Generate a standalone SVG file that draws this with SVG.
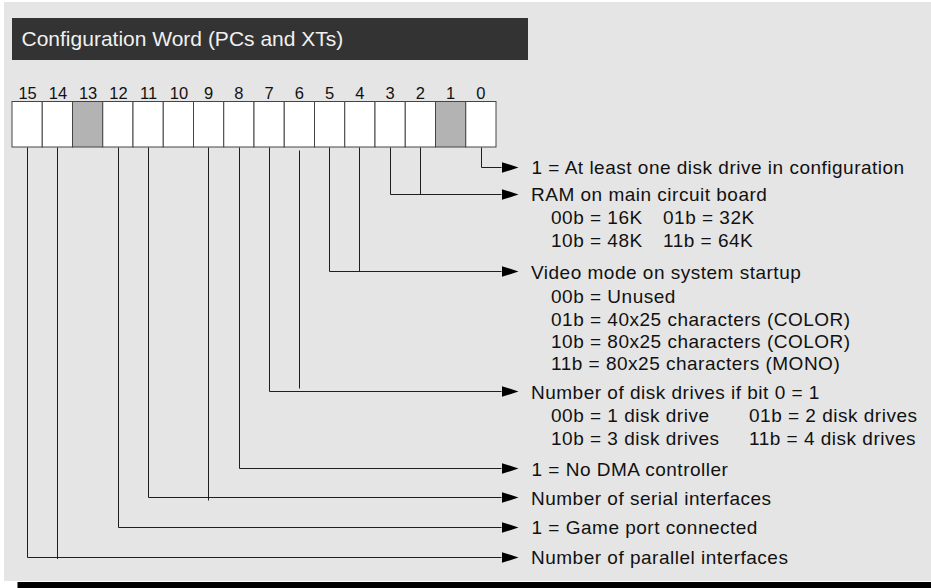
<svg xmlns="http://www.w3.org/2000/svg" width="931" height="588" viewBox="0 0 931 588">
  <style>
    .bg { fill: #e5e5e5; }
    .bar { fill: #333333; }
    .title { font-family: "Liberation Sans", Arial, sans-serif; font-size: 21px; fill: #f0f0f0; }
    .bitlbl { font-family: "Liberation Sans", Arial, sans-serif; font-size: 16.5px; fill: #111; text-anchor: middle; }
    .cell { fill: #ffffff; stroke: #444; stroke-width: 1; }
    .cell.res { fill: #b3b3b3; }
    .conn { fill: none; stroke: #1e1e1e; stroke-width: 1; }
    .desc { font-family: "Liberation Sans", Arial, sans-serif; font-size: 19px; letter-spacing: 0.5px; fill: #111; }
  </style>
  <defs>
    <marker id="arrow" viewBox="0 0 17 11" refX="0" refY="5.5" markerWidth="17" markerHeight="11" markerUnits="userSpaceOnUse" orient="auto">
      <path d="M0,0 L17,5.5 L0,11 z" fill="#000"/>
    </marker>
  </defs>

  <rect class="bg" x="4" y="2" width="927" height="579"/>
  <rect x="17.5" y="582" width="913.5" height="6" fill="#000"/>

  <g id="title">
    <rect class="bar" x="12" y="18" width="516" height="42"/>
    <text class="title" x="21.5" y="45.5">Configuration Word (PCs and XTs)</text>
  </g>

  <g id="bits">
    <g id="bit15"><rect class="cell" x="12" y="101.5" width="30.25" height="45.5"/><text class="bitlbl" x="27.6" y="99">15</text></g>
    <g id="bit14"><rect class="cell" x="42.25" y="101.5" width="30.25" height="45.5"/><text class="bitlbl" x="57.9" y="99">14</text></g>
    <g id="bit13"><rect class="cell res" x="72.5" y="101.5" width="30.25" height="45.5"/><text class="bitlbl" x="88.1" y="99">13</text></g>
    <g id="bit12"><rect class="cell" x="102.75" y="101.5" width="30.25" height="45.5"/><text class="bitlbl" x="118.4" y="99">12</text></g>
    <g id="bit11"><rect class="cell" x="133" y="101.5" width="30.25" height="45.5"/><text class="bitlbl" x="148.6" y="99">11</text></g>
    <g id="bit10"><rect class="cell" x="163.25" y="101.5" width="30.25" height="45.5"/><text class="bitlbl" x="178.9" y="99">10</text></g>
    <g id="bit9"><rect class="cell" x="193.5" y="101.5" width="30.25" height="45.5"/><text class="bitlbl" x="208.6" y="99">9</text></g>
    <g id="bit8"><rect class="cell" x="223.75" y="101.5" width="30.25" height="45.5"/><text class="bitlbl" x="238.9" y="99">8</text></g>
    <g id="bit7"><rect class="cell" x="254" y="101.5" width="30.25" height="45.5"/><text class="bitlbl" x="269.1" y="99">7</text></g>
    <g id="bit6"><rect class="cell" x="284.25" y="101.5" width="30.25" height="45.5"/><text class="bitlbl" x="299.4" y="99">6</text></g>
    <g id="bit5"><rect class="cell" x="314.5" y="101.5" width="30.25" height="45.5"/><text class="bitlbl" x="329.6" y="99">5</text></g>
    <g id="bit4"><rect class="cell" x="344.75" y="101.5" width="30.25" height="45.5"/><text class="bitlbl" x="359.9" y="99">4</text></g>
    <g id="bit3"><rect class="cell" x="375" y="101.5" width="30.25" height="45.5"/><text class="bitlbl" x="390.1" y="99">3</text></g>
    <g id="bit2"><rect class="cell" x="405.25" y="101.5" width="30.25" height="45.5"/><text class="bitlbl" x="420.4" y="99">2</text></g>
    <g id="bit1"><rect class="cell res" x="435.5" y="101.5" width="30.25" height="45.5"/><text class="bitlbl" x="450.6" y="99">1</text></g>
    <g id="bit0"><rect class="cell" x="465.75" y="101.5" width="30.25" height="45.5"/><text class="bitlbl" x="480.9" y="99">0</text></g>
  </g>

  <g id="connectors">
    <path class="conn" d="M481.5 147.5 V167.5 H501.5" marker-end="url(#arrow)"/>
    <path class="conn" d="M390.5 147.5 V194.5 H501.5" marker-end="url(#arrow)"/>
    <path class="conn" d="M420.5 147.5 V194.5"/>
    <path class="conn" d="M329.5 147.5 V271.5 H501.5" marker-end="url(#arrow)"/>
    <path class="conn" d="M359.5 147.5 V271.5"/>
    <path class="conn" d="M269.5 147.5 V391.5 H501.5" marker-end="url(#arrow)"/>
    <path class="conn" d="M299.5 150.5 V388.5"/>
    <path class="conn" d="M239.5 147.5 V468.5 H501.5" marker-end="url(#arrow)"/>
    <path class="conn" d="M148.5 147.5 V497.5 H501.5" marker-end="url(#arrow)"/>
    <path class="conn" d="M208.5 147.5 V500.5"/>
    <path class="conn" d="M118.5 147.5 V527.5 H501.5" marker-end="url(#arrow)"/>
    <path class="conn" d="M27.5 147.5 V557.5 H501.5" marker-end="url(#arrow)"/>
    <path class="conn" d="M57.5 147.5 V559"/>
  </g>

  <g id="desc-bit0">
    <text class="desc" x="531.5" y="174">1 = At least one disk drive in configuration</text>
  </g>
  <g id="desc-bits3-2">
    <text class="desc" x="531" y="201">RAM on main circuit board</text>
    <text class="desc" x="551" y="224">00b = 16K</text>
    <text class="desc" x="663" y="224">01b = 32K</text>
    <text class="desc" x="551" y="246.5">10b = 48K</text>
    <text class="desc" x="663" y="246.5">11b = 64K</text>
  </g>
  <g id="desc-bits5-4">
    <text class="desc" x="531" y="278.5">Video mode on system startup</text>
    <text class="desc" x="551" y="303">00b = Unused</text>
    <text class="desc" x="551" y="325.5">01b = 40x25 characters (COLOR)</text>
    <text class="desc" x="551" y="348">10b = 80x25 characters (COLOR)</text>
    <text class="desc" x="551" y="370">11b = 80x25 characters (MONO)</text>
  </g>
  <g id="desc-bits7-6">
    <text class="desc" x="531" y="398.5">Number of disk drives if bit 0 = 1</text>
    <text class="desc" x="551" y="422">00b = 1 disk drive</text>
    <text class="desc" x="749" y="422">01b = 2 disk drives</text>
    <text class="desc" x="551" y="444.5">10b = 3 disk drives</text>
    <text class="desc" x="749" y="444.5">11b = 4 disk drives</text>
  </g>
  <g id="desc-bit8">
    <text class="desc" x="531.5" y="476">1 = No DMA controller</text>
  </g>
  <g id="desc-bits11-9">
    <text class="desc" x="531" y="505">Number of serial interfaces</text>
  </g>
  <g id="desc-bit12">
    <text class="desc" x="531.5" y="534">1 = Game port connected</text>
  </g>
  <g id="desc-bits15-14">
    <text class="desc" x="531" y="564">Number of parallel interfaces</text>
  </g>
</svg>
